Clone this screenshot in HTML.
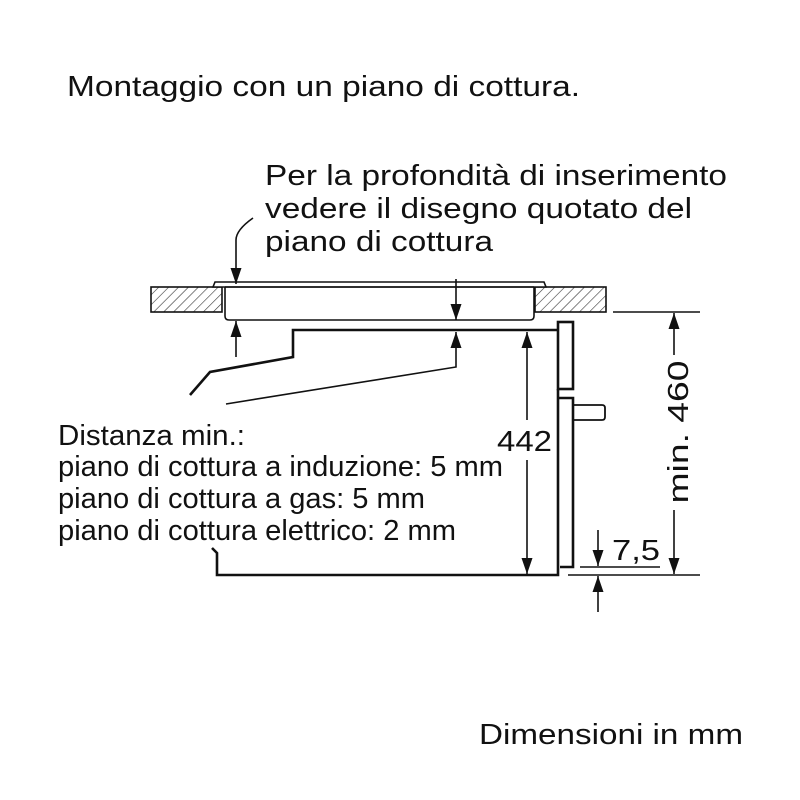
<!DOCTYPE html>
<html><head><meta charset="utf-8"><style>
body{margin:0;background:#fff}
svg{display:block}
text{font-family:"Liberation Sans",sans-serif;fill:#111}
</style></head><body>
<svg width="800" height="800" viewBox="0 0 800 800" xmlns="http://www.w3.org/2000/svg">
<defs>
<pattern id="h" width="7" height="7" patternUnits="userSpaceOnUse" patternTransform="rotate(45)">
<line x1="0" y1="0" x2="0" y2="7" stroke="#333" stroke-width="1.2"/>
</pattern>
<marker id="a" viewBox="0 0 10 10" refX="10" refY="5" markerWidth="16" markerHeight="11" markerUnits="userSpaceOnUse" orient="auto-start-reverse" preserveAspectRatio="none">
<path d="M0,0 L10,5 L0,10 z" fill="#111"/>
</marker>
</defs>
<g font-size="29">
<text x="67" y="96" textLength="513" lengthAdjust="spacingAndGlyphs">Montaggio con un piano di cottura.</text>
<text x="265" y="185" textLength="462" lengthAdjust="spacingAndGlyphs">Per la profondità di inserimento</text>
<text x="265" y="218" textLength="427" lengthAdjust="spacingAndGlyphs">vedere il disegno quotato del</text>
<text x="265" y="251" textLength="228" lengthAdjust="spacingAndGlyphs">piano di cottura</text>
<text x="58" y="445" textLength="187" lengthAdjust="spacingAndGlyphs">Distanza min.:</text>
<text x="58" y="476" textLength="445" lengthAdjust="spacingAndGlyphs">piano di cottura a induzione: 5 mm</text>
<text x="58" y="508" textLength="367" lengthAdjust="spacingAndGlyphs">piano di cottura a gas: 5 mm</text>
<text x="58" y="540" textLength="398" lengthAdjust="spacingAndGlyphs">piano di cottura elettrico: 2 mm</text>
<text x="479" y="744" textLength="264" lengthAdjust="spacingAndGlyphs">Dimensioni in mm</text>
<text x="497" y="451" textLength="55" lengthAdjust="spacingAndGlyphs">442</text>
<text x="612" y="560" textLength="48" lengthAdjust="spacingAndGlyphs">7,5</text>
<text transform="translate(688,432) rotate(-90)" text-anchor="middle" textLength="143" lengthAdjust="spacingAndGlyphs">min. 460</text>
</g>
<g stroke="#111" fill="none" stroke-width="1.6">
<rect x="151" y="287" width="71" height="25" fill="url(#h)"/>
<rect x="535" y="287" width="71" height="25" fill="url(#h)"/>
<path d="M213,287 L215,282 L544,282 L546,287 Z" fill="#fff"/>
<path d="M225,287 L225,316 Q225,320 229,320 L530,320 Q534,320 534,316 L534,287"/>
<line x1="225" y1="287" x2="534" y2="287"/>
<path d="M253,218 Q236,230 236,240 L236,284" marker-end="url(#a)"/>
<line x1="456" y1="279" x2="456" y2="320" marker-end="url(#a)"/>
<path d="M226,404 L456,367 L456,332" marker-end="url(#a)"/>
<line x1="236" y1="357" x2="236" y2="321" marker-end="url(#a)"/>
<path d="M190,395 L210,372 L293,357 L293,330 L558,330" stroke-width="2.6"/>
<rect x="558" y="322" width="15" height="67" stroke-width="2.6"/>
<path d="M558,389 L558,575 L217,575 L217,553 L212,548" stroke-width="2.6"/>
<path d="M558,398 L573,398 L573,567 L560,567" stroke-width="2.6"/>
<path d="M573,405 L602,405 Q605,405 605,408 L605,417 Q605,420 602,420 L573,420" stroke-width="1.8"/>
<line x1="527" y1="420" x2="527" y2="332" marker-end="url(#a)"/>
<line x1="527" y1="460" x2="527" y2="574" marker-end="url(#a)"/>
<line x1="613" y1="312" x2="700" y2="312"/>
<line x1="568" y1="575" x2="700" y2="575"/>
<line x1="580" y1="567" x2="660" y2="567"/>
<line x1="674" y1="355" x2="674" y2="313" marker-end="url(#a)"/>
<line x1="674" y1="510" x2="674" y2="574" marker-end="url(#a)"/>
<line x1="598" y1="530" x2="598" y2="566" marker-end="url(#a)"/>
<line x1="598" y1="612" x2="598" y2="576" marker-end="url(#a)"/>
</g>
</svg>
</body></html>
